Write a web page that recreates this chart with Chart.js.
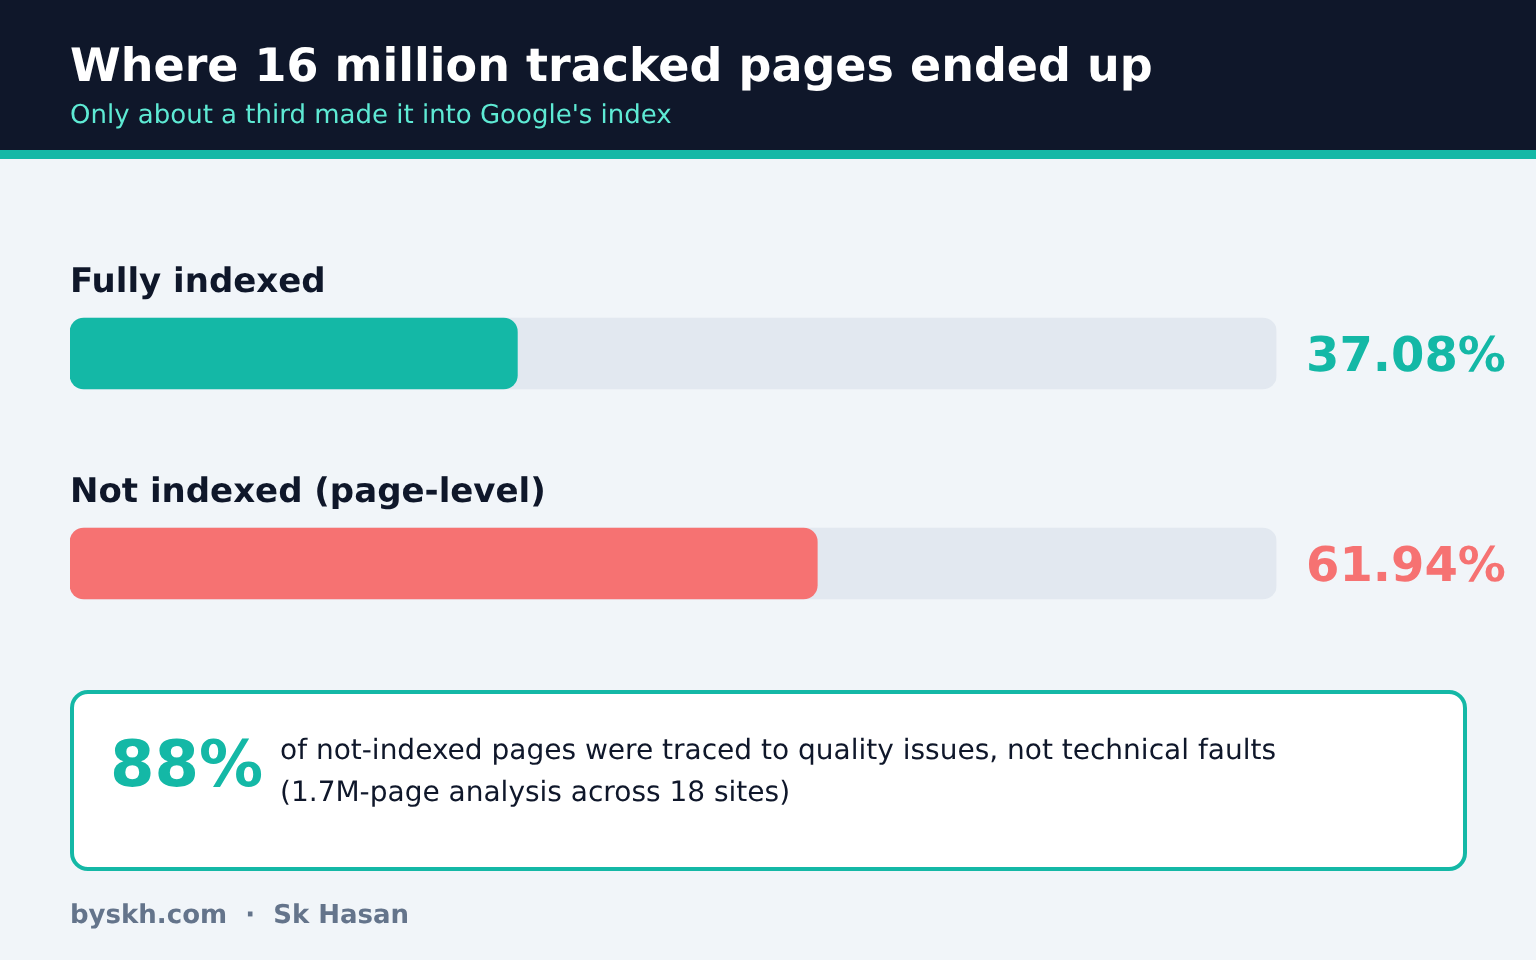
<!DOCTYPE html>
<html><head><meta charset="utf-8">
<script src="https://cdn.jsdelivr.net/npm/chart.js@4"></script>
<style>
html,body{margin:0;padding:0;width:1536px;height:960px;overflow:hidden;background:#f1f5f9;font-family:"DejaVu Sans",sans-serif}
#header{position:absolute;left:0;top:0;width:1536px;height:150px;background:#0f172a}
#rule{position:absolute;left:0;top:150px;width:1536px;height:9px;background:#14b8a6}
#wrap{position:absolute;left:0;top:0;width:1536px;height:960px}
#card{position:absolute;left:70px;top:690px;width:1397px;height:181px;box-sizing:border-box;background:#fff;border:4px solid #14b8a6;border-radius:18px}
</style></head><body>
<div id="header"></div><div id="rule"></div>
<div id="card"></div>
<div id="wrap"><canvas id="c" width="1536" height="960"></canvas></div>
<script>
const categories = ["Fully indexed", "Not indexed (page-level)"];
const shares = [37.08, 61.94];
const trackValues = [100, 100];
const barColors = ["#14b8a6", "#f67272"];
const trackColor = "#e2e8f0";
const titleText = "Where 16 million tracked pages ended up";
const subtitleText = "Only about a third made it into Google's index";
const calloutValue = "88%";
const calloutLines = ["of not-indexed pages were traced to quality issues, not technical faults", "(1.7M-page analysis across 18 sites)"];
const footerText = "byskh.com  \u00b7  Sk Hasan";

const labelPlugin = {
  id: "labels",
  afterDatasetsDraw(chart) {
    const { ctx, scales: { y } } = chart;
    const put = (text, x, base, font, color) => {
      ctx.font = font + " 'DejaVu Sans'";
      ctx.fillStyle = color;
      ctx.fillText(text, x, base);
    };
    ctx.save();
    ctx.textRendering = "geometricPrecision";
    ctx.fontKerning = "normal";
    ctx.textBaseline = "alphabetic";
    ctx.textAlign = "left";
    put(titleText, 70, 81, "700 46px", "#ffffff");
    put(subtitleText, 70, 123, "400 26px", "#5eead4");
    categories.forEach((name, i) => {
      const cy = y.getPixelForValue(i);
      put(name, 70, cy - 62, "700 34px", "#0f172a");
      put(shares[i].toFixed(2) + "%", 1306, cy + 17.5, "700 48px", barColors[i]);
    });
    put(calloutValue, 110, 786, "700 64px", "#14b8a6");
    put(calloutLines[0], 280, 759, "400 28px", "#0f172a");
    put(calloutLines[1], 280, 801, "400 28px", "#0f172a");
    put(footerText, 70, 923, "700 26px", "#64748b");
    ctx.restore();
  }
};

new Chart(document.getElementById("c"), {
  type: "bar",
  data: {
    labels: categories,
    datasets: [
      { data: shares, backgroundColor: barColors, borderRadius: 14, borderSkipped: false, barThickness: 71, grouped: false, order: 1 },
      { data: trackValues, backgroundColor: trackColor, borderRadius: 14, borderSkipped: false, barThickness: 71, grouped: false, order: 2 }
    ]
  },
  options: {
    indexAxis: "y",
    responsive: false,
    animation: false,
    layout: { padding: { left: 70, right: 259.5, top: 248.5, bottom: 291.5 } },
    scales: {
      x: { display: false, min: 0, max: 100 },
      y: { display: false }
    },
    plugins: { legend: { display: false }, tooltip: { enabled: false } }
  },
  plugins: [labelPlugin]
});
</script>
</body></html>
